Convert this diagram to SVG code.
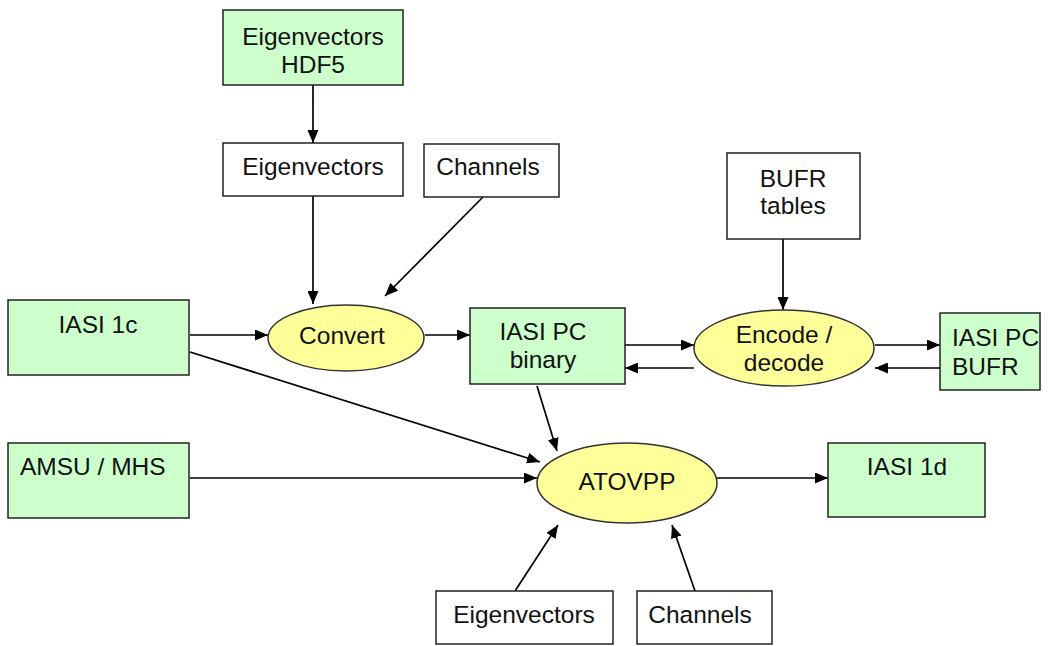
<svg xmlns="http://www.w3.org/2000/svg" width="1049" height="646" viewBox="0 0 1049 646">
<defs>
<marker id="ah" viewBox="0 0 13 11" refX="13" refY="5.5" markerWidth="13" markerHeight="11" markerUnits="userSpaceOnUse" orient="auto">
<path d="M0,0 L13,5.5 L0,11 z" fill="#000"/>
</marker>
<style>
.g{fill:#ccffcc;stroke:#222;stroke-width:1.5}
.w{fill:#fff;stroke:#222;stroke-width:1.5}
.y{fill:#ffff99;stroke:#333;stroke-width:1.5}
text{font-family:"Liberation Sans",Arial,sans-serif;font-size:24.5px;fill:#111}
.c{text-anchor:middle}
.e{stroke:#000;stroke-width:1.7;fill:none;marker-end:url(#ah)}
</style>
</defs>
<rect width="1049" height="646" fill="#fff"/>
<g id="connectors">
<line class="e" x1="313" y1="85" x2="313" y2="143"/>
<line class="e" x1="313" y1="196" x2="313" y2="304"/>
<line class="e" x1="483" y1="197" x2="385" y2="296"/>
<line class="e" x1="190" y1="335" x2="268" y2="335"/>
<line class="e" x1="425" y1="335" x2="470" y2="335"/>
<line class="e" x1="625" y1="345" x2="694" y2="345"/>
<line class="e" x1="694" y1="368" x2="625" y2="368"/>
<line class="e" x1="875" y1="345" x2="940" y2="345"/>
<line class="e" x1="940" y1="368" x2="875" y2="368"/>
<line class="e" x1="783" y1="239" x2="783" y2="310"/>
<line class="e" x1="190" y1="352" x2="540" y2="462"/>
<line class="e" x1="537" y1="386" x2="557" y2="451"/>
<line class="e" x1="190" y1="478" x2="537" y2="478"/>
<line class="e" x1="717" y1="478" x2="828" y2="478"/>
<line class="e" x1="515" y1="591" x2="558" y2="525"/>
<line class="e" x1="695" y1="591" x2="672" y2="525"/>
</g>
<g id="eigHDF5"><rect class="g" x="223" y="10" width="180" height="75"/><text class="c" x="313" y="45">Eigenvectors</text><text class="c" x="313" y="73">HDF5</text></g>
<g id="eig1"><rect class="w" x="223" y="143" width="180" height="53"/><text class="c" x="313" y="175">Eigenvectors</text></g>
<g id="chan1"><rect class="w" x="424" y="144" width="135" height="53"/><text class="c" x="488" y="175">Channels</text></g>
<g id="bufrtables"><rect class="w" x="727" y="153" width="133" height="86"/><text class="c" x="793" y="187">BUFR</text><text class="c" x="793" y="214">tables</text></g>
<g id="iasi1c"><rect class="g" x="8" y="300" width="181" height="75"/><text class="c" x="98" y="333">IASI 1c</text></g>
<g id="convert"><ellipse class="y" cx="346" cy="338" rx="78" ry="33"/><text class="c" x="342" y="344">Convert</text></g>
<g id="iasipcbin"><rect class="g" x="470" y="308" width="155" height="76"/><text class="c" x="543" y="340">IASI PC</text><text class="c" x="543" y="368">binary</text></g>
<g id="encode"><ellipse class="y" cx="784" cy="348" rx="90" ry="38"/><text class="c" x="784" y="343">Encode /</text><text class="c" x="784" y="371">decode</text></g>
<g id="iasipcbufr"><rect class="g" x="940" y="313" width="100" height="77"/><text x="952" y="346">IASI PC</text><text x="952" y="375">BUFR</text></g>
<g id="amsu"><rect class="g" x="8" y="443" width="181" height="75"/><text x="20" y="475">AMSU / MHS</text></g>
<g id="atovpp"><ellipse class="y" cx="627" cy="483" rx="90" ry="40"/><text class="c" x="627" y="490">ATOVPP</text></g>
<g id="iasi1d"><rect class="g" x="828" y="443" width="157" height="74"/><text class="c" x="907" y="475">IASI 1d</text></g>
<g id="eig2"><rect class="w" x="436" y="591" width="177" height="53"/><text class="c" x="524" y="623">Eigenvectors</text></g>
<g id="chan2"><rect class="w" x="637" y="591" width="135" height="53"/><text class="c" x="700" y="623">Channels</text></g>
</svg>
